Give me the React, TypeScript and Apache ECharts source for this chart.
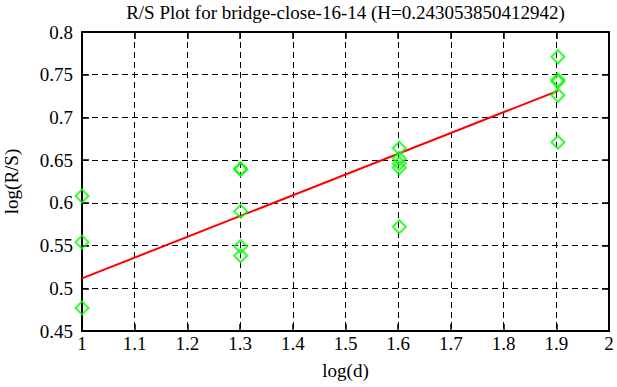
import React, { useEffect, useRef } from "react";
import * as echarts from "echarts";

// log10(d) for d = 10, 20, 40, 80
const logD = [1, 1.30103, 1.60206, 1.90309];
// log(R/S) values observed at each log(d)
const rsAt10 = [0.608, 0.554, 0.477];
const rsAt20 = [0.639, 0.64, 0.59, 0.549, 0.538];
const rsAt40 = [0.664, 0.652, 0.646, 0.641, 0.572];
const rsAt80 = [0.771, 0.744, 0.742, 0.726, 0.671];
const groups = [rsAt10, rsAt20, rsAt40, rsAt80];

// fitted line: log(R/S) = H * log(d) + c
const H = 0.243053850412942;
const intercept = 0.2686;

const titleText = "R/S Plot for bridge-close-16-14 (H=0.243053850412942)";
const xName = "log(d)";
const yName = "log(R/S)";

const FONT = "Liberation Serif";
const FS = 19;

export default function App() {
  const ref = useRef<HTMLDivElement>(null);
  useEffect(() => {
    if (!ref.current) return;
    const chart = echarts.init(ref.current, undefined, { renderer: "svg" });
    const points: number[][] = [];
    groups.forEach((g, i) => g.forEach((v) => points.push([logD[i], v])));
    const x0 = logD[0];
    const x1 = logD[logD.length - 1];
    const fit = [
      [x0, H * x0 + intercept],
      [x1, H * x1 + intercept],
    ];
    const gridLine = { show: true, lineStyle: { color: "#000", width: 1, type: [6, 4] as any } };
    const axisLine = { show: true, onZero: false, lineStyle: { color: "#000", width: 2 } };
    const tick = { show: true, inside: true, length: 7, lineStyle: { color: "#000", width: 1.5 } };
    chart.setOption({
      animation: false,
      backgroundColor: "#fff",
      grid: {
        left: 82,
        top: 32,
        right: 8,
        bottom: 56,
        containLabel: false,
        outerBoundsMode: "none",
      },
      graphic: [
        {
          type: "text",
          x: 345.5,
          y: 12,
          style: {
            text: titleText,
            font: `${FS}px "${FONT}"`,
            fill: "#000",
            textAlign: "center",
            textVerticalAlign: "middle",
          },
        },
      ],
      xAxis: [
        {
          type: "value",
          min: 1,
          max: 2,
          interval: 0.1,
          position: "bottom",
          name: xName,
          nameLocation: "middle",
          nameGap: 30,
          nameTextStyle: { fontFamily: FONT, fontSize: FS, color: "#000" },
          axisLine,
          axisTick: tick,
          splitLine: gridLine,
          axisLabel: {
            fontFamily: FONT,
            fontSize: FS,
            color: "#000",
            margin: 3,
            formatter: (v: number) => String(+v.toFixed(1)),
          },
        },
        {
          type: "value",
          min: 1,
          max: 2,
          interval: 0.1,
          position: "top",
          axisLine,
          axisTick: tick,
          splitLine: { show: false },
          axisLabel: { show: false },
        },
      ],
      yAxis: [
        {
          type: "value",
          min: 0.45,
          max: 0.8,
          interval: 0.05,
          position: "left",
          name: yName,
          nameLocation: "middle",
          nameGap: 61,
          nameRotate: 90,
          nameTextStyle: { fontFamily: FONT, fontSize: FS, color: "#000" },
          axisLine,
          axisTick: tick,
          splitLine: gridLine,
          axisLabel: {
            fontFamily: FONT,
            fontSize: FS,
            color: "#000",
            margin: 9,
            formatter: (v: number) => String(+v.toFixed(2)),
          },
        },
        {
          type: "value",
          min: 0.45,
          max: 0.8,
          interval: 0.05,
          position: "right",
          axisLine,
          axisTick: tick,
          splitLine: { show: false },
          axisLabel: { show: false },
        },
      ],
      series: [
        {
          type: "line",
          data: fit,
          symbol: "none",
          lineStyle: { color: "#ff0000", width: 2 },
          z: 2,
        },
        {
          type: "scatter",
          data: points,
          symbol: "diamond",
          symbolSize: 13,
          itemStyle: { color: "rgba(0,0,0,0)", borderColor: "#00ff00", borderWidth: 2 },
          z: 3,
        },
      ],
    });
    return () => chart.dispose();
  }, []);
  return (
    <div
      ref={ref}
      style={{ position: "fixed", left: 0, top: 0, width: 617, height: 387, background: "#fff" }}
    />
  );
}
